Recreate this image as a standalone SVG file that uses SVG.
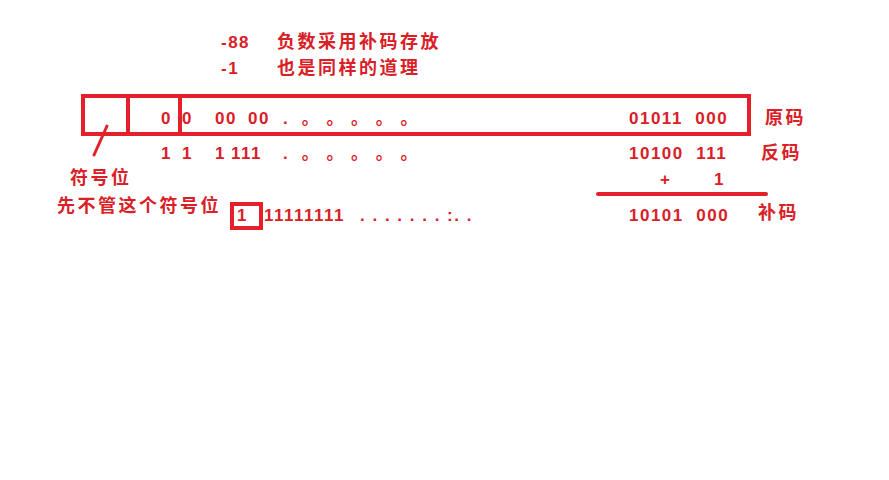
<svg xmlns="http://www.w3.org/2000/svg" width="889" height="480" viewBox="0 0 889 480">
<style>
.t{font-family:"Liberation Sans","Noto Sans CJK SC",sans-serif;font-weight:bold;font-size:17px;fill:#d92027;white-space:pre;letter-spacing:1.5px}
.c{font-size:18px;letter-spacing:2.5px}
.b{fill:none;stroke:#e5202a;stroke-width:4}
</style>
<rect width="889" height="480" fill="#fff"/>
<g id="boxes">
<rect class="b" x="83" y="96" width="666" height="38"/>
<rect class="b" x="83" y="96" width="45" height="38"/>
<rect class="b" x="128" y="96" width="52" height="38"/>
<rect class="b" x="232" y="204" width="29" height="24"/>
</g>
<g id="connectors">
<line x1="107" y1="126" x2="94" y2="155" stroke="#e5202a" stroke-width="3" stroke-linecap="round"/>
<line x1="598" y1="194" x2="766" y2="194" stroke="#e5202a" stroke-width="4" stroke-linecap="round"/>
</g>
<g id="texts">
<text class="t" x="221" y="48">-88</text>
<text class="t c" x="277" y="48">负数采用补码存放</text>
<text class="t" x="221" y="74">-1</text>
<text class="t c" x="277" y="74">也是同样的道理</text>
<text class="t" x="161" y="124">0</text>
<text class="t" x="182" y="124">0</text>
<text class="t" x="215" y="124">00</text>
<text class="t" x="248" y="124">00</text>
<text class="t" x="161" y="159">1</text>
<text class="t" x="182" y="159">1</text>
<text class="t" x="215" y="159">1</text>
<text class="t" x="231" y="159">111</text>
<text class="t" x="283" y="124">.  。 。 。 。 。</text>
<text class="t" x="283" y="159">.  。 。 。 。 。</text>
<text class="t" x="629" y="124">01011  000</text>
<text class="t" x="629" y="159">10100  111</text>
<text class="t" x="660" y="185">+</text>
<text class="t" x="714" y="185">1</text>
<text class="t" x="237" y="221">1</text>
<text class="t" x="264" y="221">11111111</text>
<text class="t" x="360" y="221">. . . . . . . :. .</text>
<text class="t" x="629" y="221">10101  000</text>
<text class="t c" x="765" y="124">原码</text>
<text class="t c" x="761" y="159">反码</text>
<text class="t c" x="758" y="219">补码</text>
<text class="t c" x="70" y="184">符号位</text>
<text class="t c" x="57" y="212">先不管这个符号位</text>
</g>
</svg>
